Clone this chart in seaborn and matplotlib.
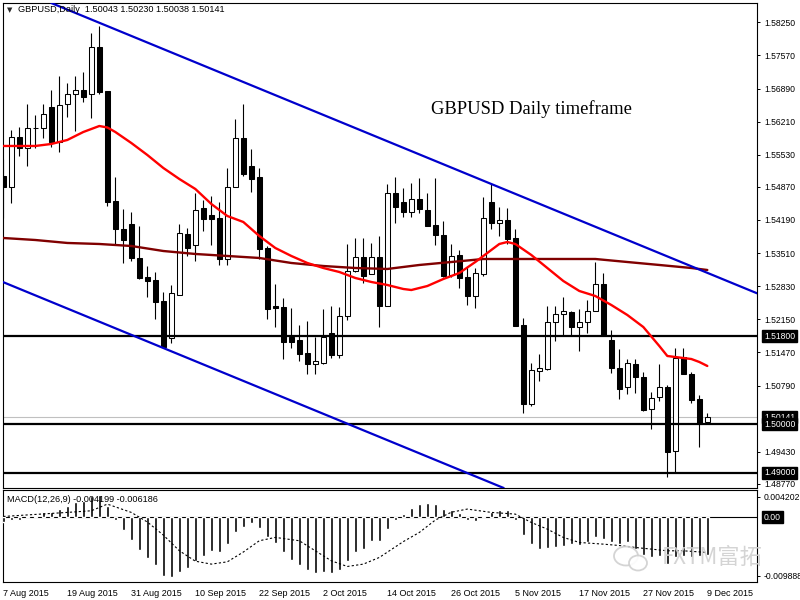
import matplotlib
matplotlib.use("Agg")
import matplotlib.pyplot as plt
import seaborn as sns
import numpy as np
from matplotlib.patches import Ellipse
from matplotlib.transforms import IdentityTransform, blended_transform_factory

# ---------------- data ----------------
opens = [1.55094, 1.54868, 1.55894, 1.55669, 1.56069, 1.56079, 1.56511, 1.55792, 1.56572, 1.56778,
         1.56860, 1.56778, 1.57743, 1.56839, 1.54580, 1.54005, 1.54108, 1.53410, 1.53019, 1.52958,
         1.52526, 1.51767, 1.52650, 1.53902, 1.53676, 1.54436, 1.54293, 1.54231, 1.53389, 1.54868,
         1.55874, 1.55299, 1.55073, 1.53615, 1.52424, 1.52403, 1.51787, 1.51725, 1.51458, 1.51233,
         1.51253, 1.51869, 1.51417, 1.52218, 1.53143, 1.53430, 1.53081, 1.53430, 1.52424, 1.54744,
         1.54560, 1.54354, 1.54621, 1.54395, 1.54087, 1.53882, 1.53060, 1.53471, 1.53019, 1.52629,
         1.53081, 1.54560, 1.54128, 1.54190, 1.53820, 1.52034, 1.50411, 1.51089, 1.51130, 1.52095,
         1.52259, 1.52301, 1.51992, 1.52095, 1.52321, 1.52876, 1.51725, 1.51150, 1.50760, 1.51233,
         1.50966, 1.50308, 1.50555, 1.50760, 1.49446, 1.51376, 1.51027, 1.50514, 1.50043]
highs = [1.55443, 1.56038, 1.56100, 1.56572, 1.56346, 1.56572, 1.56860, 1.57147, 1.57003, 1.57147,
         1.57229, 1.58030, 1.58174, 1.56839, 1.55073, 1.54416, 1.54354, 1.54067, 1.53245, 1.53122,
         1.52711, 1.52855, 1.54108, 1.54026, 1.54744, 1.54601, 1.54683, 1.54560, 1.55258, 1.56264,
         1.56572, 1.55648, 1.55258, 1.53656, 1.52876, 1.52588, 1.52383, 1.52034, 1.52116, 1.51787,
         1.52362, 1.52424, 1.52403, 1.53697, 1.53820, 1.53820, 1.53718, 1.53861, 1.54929, 1.55073,
         1.54847, 1.54950, 1.55052, 1.54744, 1.55052, 1.54169, 1.53697, 1.53574, 1.53225, 1.53204,
         1.54662, 1.54929, 1.54457, 1.54436, 1.54005, 1.52177, 1.51253, 1.51438, 1.52424, 1.52424,
         1.52609, 1.52321, 1.52362, 1.52547, 1.53327, 1.53101, 1.51931, 1.51541, 1.51335, 1.51335,
         1.51068, 1.50658, 1.51233, 1.50801, 1.51561, 1.51561, 1.51068, 1.50596, 1.50230]
lows = [1.54231, 1.54539, 1.55504, 1.55299, 1.55669, 1.55874, 1.55689, 1.55586, 1.56305, 1.56018,
        1.56613, 1.56285, 1.56778, 1.54477, 1.53676, 1.53307, 1.53348, 1.52978, 1.52609, 1.52157,
        1.51561, 1.51664, 1.52650, 1.53451, 1.53348, 1.53964, 1.53676, 1.53266, 1.53266, 1.54868,
        1.55094, 1.54765, 1.53389, 1.52157, 1.51992, 1.51335, 1.51561, 1.51294, 1.51027, 1.51027,
        1.51233, 1.51356, 1.51356, 1.52136, 1.53122, 1.52896, 1.53081, 1.51992, 1.52424, 1.54128,
        1.54251, 1.54251, 1.54334, 1.54067, 1.53676, 1.53019, 1.53019, 1.52793, 1.52444, 1.52383,
        1.53040, 1.54005, 1.53861, 1.53697, 1.52013, 1.50226, 1.50370, 1.50883, 1.51109, 1.51705,
        1.51828, 1.51808, 1.51500, 1.51869, 1.52321, 1.51808, 1.51048, 1.50514, 1.50616, 1.50637,
        1.50267, 1.49898, 1.50473, 1.48912, 1.49015, 1.51027, 1.50432, 1.49528, 1.50038]
closes = [1.54868, 1.55894, 1.55669, 1.56079, 1.56079, 1.56367, 1.55792, 1.56552, 1.56778, 1.56860,
          1.56716, 1.57743, 1.56819, 1.54560, 1.54005, 1.53779, 1.53410, 1.52999, 1.52937, 1.52506,
          1.51582, 1.52691, 1.53923, 1.53615, 1.54395, 1.54210, 1.54210, 1.53389, 1.54868, 1.55874,
          1.55135, 1.55032, 1.53594, 1.52362, 1.52383, 1.51684, 1.51684, 1.51438, 1.51233, 1.51294,
          1.51787, 1.51417, 1.52218, 1.53143, 1.53430, 1.53040, 1.53430, 1.52424, 1.54744, 1.54457,
          1.54354, 1.54621, 1.54416, 1.54067, 1.53882, 1.53040, 1.53451, 1.52999, 1.52629, 1.53101,
          1.54231, 1.54128, 1.54190, 1.53800, 1.52013, 1.50411, 1.51109, 1.51150, 1.52095, 1.52259,
          1.52321, 1.51992, 1.52095, 1.52321, 1.52876, 1.51828, 1.51150, 1.50719, 1.51253, 1.50966,
          1.50288, 1.50534, 1.50760, 1.49425, 1.51356, 1.51027, 1.50493, 1.50000, 1.50141]

# moving averages (bar index, price)
ma_fast_idx = [0, 4, 6, 8, 10, 12, 13, 14, 16, 18, 20, 22, 24, 26, 28, 30, 32, 34, 36, 38,
               40, 42, 44, 46, 48, 50, 51, 53, 55, 57, 59, 61, 62, 63, 64, 66, 68, 70, 72, 74,
               76, 78, 80, 82, 83, 84, 86, 87, 88]
ma_fast_val = [1.55710, 1.55710, 1.55751, 1.55833, 1.55997, 1.56120, 1.56090, 1.55997, 1.55771, 1.55525,
               1.55258, 1.55032, 1.54827, 1.54519, 1.54272, 1.54149, 1.53861, 1.53615, 1.53451, 1.53307,
               1.53204, 1.53122, 1.52999, 1.52917, 1.52855, 1.52773, 1.52752, 1.52834, 1.52978, 1.53101,
               1.53327, 1.53574, 1.53697, 1.53738, 1.53697, 1.53471, 1.53204, 1.52937, 1.52732, 1.52629,
               1.52444, 1.52239, 1.51992, 1.51602, 1.51397, 1.51376, 1.51335, 1.51274, 1.51192]
ma_slow_idx = [0, 4, 8, 12, 16, 20, 24, 28, 32, 36, 40, 44, 48, 52, 56, 60, 66, 74, 78, 82, 86, 88]
ma_slow_val = [1.53820, 1.53779, 1.53718, 1.53697, 1.53656, 1.53553, 1.53492, 1.53451, 1.53410, 1.53307,
               1.53245, 1.53204, 1.53184, 1.53266, 1.53327, 1.53389, 1.53389, 1.53389, 1.53327, 1.53266,
               1.53204, 1.53163]

# channel anchors (bar index, price)
upper_a = (12, 1.58240)
upper_b = (61, 1.54929)
lower_a = (20, 1.51561)

levels = [1.51800, 1.50000, 1.49000]
bid = 1.50141

macd_hist = [-0.00066, -0.00036, -0.00036, 0.00015, 0.00026, 0.00077, 0.00087, 0.00128, 0.00179, 0.00230,
             0.00255, 0.00322, 0.00342, 0.00179, -0.00036, -0.00189, -0.00347, -0.00500, -0.00623, -0.00725,
             -0.00894, -0.00909, -0.00832, -0.00776, -0.00664, -0.00587, -0.00511, -0.00526, -0.00409, -0.00230,
             -0.00143, -0.00087, -0.00163, -0.00296, -0.00398, -0.00536, -0.00649, -0.00730, -0.00807, -0.00858,
             -0.00843, -0.00858, -0.00802, -0.00664, -0.00536, -0.00485, -0.00357, -0.00357, -0.00179, -0.00036,
             0.00056, 0.00143, 0.00204, 0.00220, 0.00204, 0.00128, 0.00112, 0.00061, -0.00041, -0.00051,
             0.00015, 0.00077, 0.00112, 0.00112, -0.00036, -0.00266, -0.00409, -0.00485, -0.00475, -0.00449,
             -0.00434, -0.00409, -0.00419, -0.00373, -0.00306, -0.00332, -0.00373, -0.00409, -0.00383, -0.00485,
             -0.00577, -0.00613, -0.00598, -0.00715, -0.00613, -0.00587, -0.00613, -0.00598, -0.00577]
signal_idx = [0, 8, 11, 13, 16, 18, 20, 22, 24, 26, 28, 30, 32, 34, 37, 39, 41, 43, 45, 47,
              50, 52, 54, 56, 58, 61, 64, 66, 68, 70, 72, 75, 77, 79, 81, 83, 85, 88]
signal_val = [0.00015, 0.00077, 0.00102, 0.00204, 0.00077, -0.00070, -0.00270, -0.00510, -0.00670, -0.00715,
              -0.00680, -0.00530, -0.00357, -0.00306, -0.00357, -0.00511, -0.00664, -0.00751, -0.00715, -0.00613,
              -0.00370, -0.00230, -0.00040, 0.00080, 0.00128, 0.00077, 0.00051, -0.00077, -0.00179, -0.00306,
              -0.00383, -0.00409, -0.00430, -0.00460, -0.00485, -0.00511, -0.00511, -0.00536]

price_ticks = [1.58250, 1.57570, 1.56890, 1.56210, 1.55530, 1.54870, 1.54190, 1.53510,
               1.52830, 1.52150, 1.51470, 1.50790, 1.49430, 1.48770]
date_labels = ["7 Aug 2015", "19 Aug 2015", "31 Aug 2015", "10 Sep 2015", "22 Sep 2015",
               "2 Oct 2015", "14 Oct 2015", "26 Oct 2015", "5 Nov 2015", "17 Nov 2015",
               "27 Nov 2015", "9 Dec 2015"]
date_pos = [0, 8, 16, 24, 32, 40, 48, 56, 64, 72, 80, 88]

header = "GBPUSD,Daily  1.50043 1.50230 1.50038 1.50141"
macd_header = "MACD(12,26,9) -0.004199 -0.006186"
title_text = "GBPUSD Daily timeframe"

# ---------------- style ----------------
sns.set_theme(style="white")
plt.rcParams['font.family'] = ['Liberation Sans', 'DejaVu Sans']

W, H = 800, 600
fig = plt.figure(figsize=(8, 6), dpi=100)
fig.patch.set_facecolor('white')

def px_axes(x0, y0, x1, y1):
    return fig.add_axes([x0 / W, 1 - y1 / H, (x1 - x0) / W, (y1 - y0) / H])

ax = px_axes(3, 3, 757, 488)
ax2 = px_axes(3, 490, 757, 582)

XLIM = (-0.04, 94.21)
for a in (ax, ax2):
    a.set_xlim(*XLIM)
    a.set_facecolor('white')
    for s in a.spines.values():
        s.set_color('black')
        s.set_linewidth(0.8)

ax.set_ylim(1.48686, 1.58646)

# ---------------- candles ----------------
x = np.arange(len(opens))
o = np.array(opens); h = np.array(highs); l = np.array(lows); c = np.array(closes)
up = c >= o
body_lo = np.minimum(o, c)
body_h = np.maximum(np.abs(c - o), 0.00003)
ax.vlines(x, l, h, color='black', lw=0.8, zorder=2)
ax.bar(x, body_h, bottom=body_lo, width=0.62,
       color=np.where(up, 'white', 'black'), edgecolor='black', linewidth=0.75, zorder=3)

# ---------------- indicators ----------------
sns.lineplot(x=ma_slow_idx, y=ma_slow_val, ax=ax, color='#800000', lw=1.7, zorder=4)
sns.lineplot(x=ma_fast_idx, y=ma_fast_val, ax=ax, color='#ff0000', lw=1.7, zorder=5)

ax.axline(upper_a, upper_b, color='#0000cc', lw=1.6, zorder=5)
slope = (upper_b[1] - upper_a[1]) / (upper_b[0] - upper_a[0])
ax.axline(lower_a, slope=slope, color='#0000cc', lw=1.6, zorder=5)

for lv in levels:
    ax.axhline(lv, color='black', lw=1.6, zorder=4)
ax.axhline(bid, color='#c0c0c0', lw=0.8, zorder=1)

ax.set_xticks([])
ax.yaxis.tick_right()
ax.set_yticks(price_ticks)
ax.set_yticklabels([f"{v:.5f}" for v in price_ticks])
ax.tick_params(axis='y', labelsize=6.2, length=2.5, pad=3, colors='black', direction='out', width=0.7)
ax.set_xlabel(''); ax.set_ylabel('')

btr = blended_transform_factory(ax.transAxes, ax.transData)
box_x = (764 - 3) / 754
for lv, z in [(bid, 6), (1.51800, 7), (1.50000, 8), (1.49000, 7)]:
    ax.text(box_x, lv, f"{lv:.5f}", transform=btr, ha='left', va='center', fontsize=6.2,
            color='white', zorder=z, clip_on=False,
            bbox=dict(boxstyle='square,pad=0.18', fc='black', ec='black'))

ax.text(531.5 / W, 1 - 109 / H, title_text, transform=fig.transFigure, ha='center', va='center',
        fontsize=13.4, family=['Liberation Serif', 'DejaVu Serif'], color='black')

fig.text(7 / W, 1 - 10 / H, "\u25BC", fontsize=5, family=['DejaVu Sans'], va='center', ha='left')
fig.text(18 / W, 1 - 10 / H, header, fontsize=6.6, va='center', ha='left', color='black')

# ---------------- MACD ----------------
ax2.set_ylim(-0.009888, 0.004202)
ax2.bar(x, macd_hist, width=0.42, color='black', zorder=3)
ax2.axhline(0, color='black', lw=0.8, zorder=2)
sns.lineplot(x=signal_idx, y=signal_val, ax=ax2, color='black', lw=0.8,
             linestyle=(0, (2, 2)), zorder=4)
ax2.set_xlabel(''); ax2.set_ylabel('')
ax2.yaxis.tick_right()
ax2.set_yticks([0.003130, -0.008969])
ax2.set_yticklabels(['0.004202', '-0.009888'])
ax2.tick_params(axis='y', labelsize=6.2, length=2.5, pad=2, colors='black', width=0.7)
ax2.set_xticks(date_pos)
ax2.set_xticklabels(date_labels, ha='left')
ax2.tick_params(axis='x', labelsize=6.5, length=3, pad=2, colors='black', width=0.7)
btr2 = blended_transform_factory(ax2.transAxes, ax2.transData)
ax2.text(box_x, 0.0, "0.00", transform=btr2, ha='left', va='center', fontsize=6.2,
         color='white', clip_on=False, bbox=dict(boxstyle='square,pad=0.18', fc='black', ec='black'))
fig.text(7 / W, 1 - 499 / H, macd_header, fontsize=6.6, va='center', ha='left', color='black')

# ---------------- watermark ----------------
wm = '#d0d0d0'
fig.add_artist(Ellipse((626, H - 556), 24, 19, transform=IdentityTransform(),
                       fill=False, ec=wm, lw=1.3, alpha=0.9))
fig.add_artist(Ellipse((638, H - 563), 18, 15, transform=IdentityTransform(),
                       fc='white', ec=wm, lw=1.3, alpha=0.9))
fig.text(662 / W, 1 - 557 / H, "FXTM富拓", fontsize=16, color=wm, alpha=0.9,
         family=['Noto Sans CJK SC', 'DejaVu Sans'], va='center', ha='left')

fig.savefig("out.png", dpi=100)
